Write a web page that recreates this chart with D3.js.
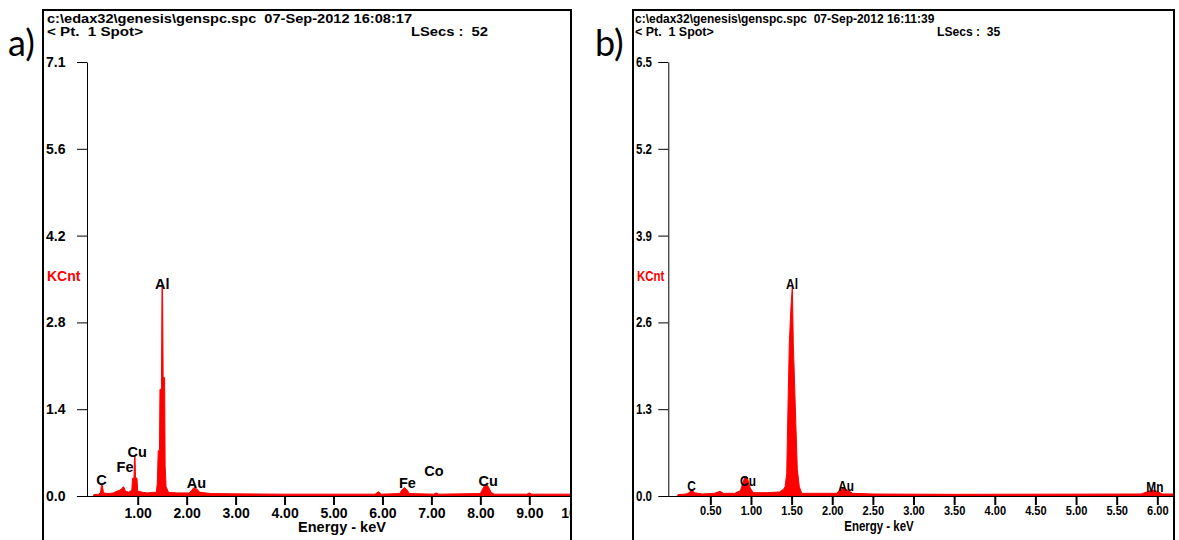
<!DOCTYPE html>
<html>
<head>
<meta charset="utf-8">
<script src="https://cdn.jsdelivr.net/npm/d3@7/dist/d3.min.js"></script>
<style>
  body { margin: 0; background: #fff; }
  svg { display: block; }
  text { font-family: "Liberation Sans", Arial, sans-serif; }
</style>
</head>
<body>
<svg id="chart" width="1179" height="540"></svg>
<script>
// ---- panel a) spectrum (keV / KCnt)
var energyA = [0.10,0.20,0.24,0.26,0.28,0.30, 0.40,0.50,0.55,0.62,0.68,0.70,0.72,0.75,0.82,
  0.88,0.895,0.925,0.935,0.945,0.955,0.985,1.00,
  1.10,1.20,1.30,1.38,1.40,1.42,1.445,1.455,1.485,1.497,1.505,1.51,1.52,1.55,1.56,1.58,1.63,
  1.80,2.05,2.10,2.15,2.20,2.27,2.50,3.00,4.00,5.00,
  5.85,5.92,5.98,6.35,6.40,6.45,6.50,6.55,
  7.05,7.10,7.15,8.00,8.05,8.10,8.15,8.22,8.28,
  8.95,9.00,9.05,10.00];
var countsA = [0.02,0.03,0.05,0.18,0.17,0.05, 0.04,0.05,0.07,0.09,0.12,0.15,0.14,0.08,0.06,
  0.10,0.29,0.29,0.65,0.65,0.30,0.29,0.08,
  0.06,0.05,0.06,0.06,0.20,0.74,0.74,1.74,1.74,3.41,3.41,3.10,1.93,1.93,0.50,0.15,0.06,
  0.05,0.05,0.09,0.14,0.12,0.06,0.04,0.035,0.03,0.03,
  0.03,0.07,0.03,0.04,0.10,0.14,0.10,0.04,
  0.03,0.05,0.03,0.04,0.12,0.19,0.17,0.06,0.03,
  0.03,0.05,0.03,0.03];
var peakNamesA = ["C","Fe","Cu","Al","Au","Fe","Co","Cu"];
var peakKeVA   = [0.26,0.74,0.99,1.50,2.20,6.51,7.05,8.16];
var peakCntA   = [0.18,0.39,0.64,3.38,0.135,0.126,0.33,0.16];
var xTicksA = [1,2,3,4,5,6,7,8,9,10];
var xTickLabelsA = ["1.00","2.00","3.00","4.00","5.00","6.00","7.00","8.00","9.00","10.00"];
var yMaxA = 7.08;
var yTickLabelsA = ["0.0","1.4","2.8","4.2","5.6","7.1"];
var headerA = ["c:\\edax32\\genesis\\genspc.spc  07-Sep-2012 16:08:17", "< Pt.  1 Spot>", "LSecs :  52"];

// ---- panel b) spectrum
var energyB = [0.10,0.20,0.24,0.27,0.30, 0.40,0.55,0.62,0.66,0.80, 0.87,0.92,0.95,0.99,1.03,
  1.20,1.35,1.40,1.42,1.44, 1.456,1.472,1.493,1.509,1.521, 1.538,1.554,1.570,1.595,1.624,
  1.80,2.05,2.10,2.14,2.20, 2.25,2.50,3.50,5.80,5.87, 5.93,6.00,6.06,6.50];
var countsB = [0.02,0.03,0.05,0.10,0.05, 0.03,0.04,0.07,0.04,0.04, 0.08,0.27,0.29,0.12,0.05,
  0.05,0.06,0.10,0.14,0.34, 1.35,2.29,2.85,3.13,2.28, 1.63,1.00,0.40,0.14,0.04,
  0.04,0.04,0.09,0.12,0.08, 0.04,0.03,0.025,0.03,0.06, 0.09,0.07,0.03,0.03];
var peakNamesB = ["C","Cu","Al","Au","Mn"];
var peakKeVB   = [0.27,0.963,1.505,2.17,5.97];
var peakCntB   = [0.08,0.15,3.10,0.08,0.064];
var xTicksB = [0.5,1,1.5,2,2.5,3,3.5,4,4.5,5,5.5,6];
var xTickLabelsB = ["0.50","1.00","1.50","2.00","2.50","3.00","3.50","4.00","4.50","5.00","5.50","6.00"];
var yMaxB = 6.5;
var yTickLabelsB = ["0.0","1.3","2.6","3.9","5.2","6.5"];
var headerB = ["c:\\edax32\\genesis\\genspc.spc  07-Sep-2012 16:11:39", "< Pt.  1 Spot>", "LSecs :  35"];

var svg = d3.select("#chart");

// text that can be squeezed sideways (panel b uses a condensed face)
function txt(g, x, y, s, o) {
  var t = g.append("text")
    .attr("transform", "translate(" + x + "," + y + ") scale(" + (o.sx || 1) + ",1)")
    .attr("text-anchor", o.anchor || "start")
    .style("font-size", (o.size || 14) + "px")
    .style("font-weight", o.weight || "bold")
    .style("white-space", "pre")
    .attr("fill", o.fill || "#000")
    .text(s);
  if (o.len) t.attr("textLength", o.len).attr("lengthAdjust", "spacingAndGlyphs");
  return t;
}

function drawPanel(p) {
  var g = svg.append("g");
  var clipId = "clip" + p.tag;

  g.append("clipPath").attr("id", clipId).append("rect")
    .attr("x", p.left + 1).attr("y", 0).attr("width", p.right - p.left - 2).attr("height", 540);

  var x = d3.scaleLinear().domain(p.xDomain).range(p.xRange);
  var y = d3.scaleLinear().domain([0, p.yMax]).range([496, 62]);

  // panel label a) / b)
  g.append("text").attr("x", p.tagX).attr("y", 56)
    .style("font-family", "Lato, 'Open Sans', sans-serif").style("font-size", "36px")
    .text(p.tag + ")");

  // frame
  g.append("rect").attr("x", p.left).attr("y", 10)
    .attr("width", p.right - p.left).attr("height", 545)
    .attr("fill", "none").attr("stroke", "#000").attr("stroke-width", 2);

  // header lines (the instrument font is wide, so stretch to the measured widths)
  txt(g, p.left + p.pad, 23, p.header[0], {size: 12.5, sx: p.sx, len: 365});
  txt(g, p.left + p.pad, 36, p.header[1], {size: 12.5, sx: p.sx, len: 96});
  txt(g, p.lsecsX, 36, p.header[2], {size: 12.5, sx: p.sx, len: 77});

  var plot = g.append("g").attr("clip-path", "url(#" + clipId + ")");

  // spectrum
  var data = p.energy.map(function(e, i) { return {e: e, c: p.counts[i]}; });
  var area = d3.area()
    .x(function(d) { return x(d.e); })
    .y0(y(0))
    .y1(function(d) { return y(d.c); });
  plot.append("path").datum(data)
    .attr("d", area)
    .attr("fill", "#ff0000")
    .attr("stroke", "#ff0000")
    .attr("stroke-width", 1)
    .attr("stroke-linejoin", "miter");

  // x axis
  plot.append("line")
    .attr("x1", p.yAxisX).attr("x2", p.right)
    .attr("y1", 496.5).attr("y2", 496.5)
    .attr("stroke", "#000").attr("stroke-width", 1);

  var xa = plot.append("g").attr("transform", "translate(0,496)")
    .call(d3.axisBottom(x).tickValues(p.xTicks).tickSize(9)
      .tickFormat(function(d, i) { return p.xTickLabels[i]; }));
  xa.select(".domain").remove();
  xa.selectAll(".tick line").attr("stroke-width", 2);
  xa.selectAll(".tick text")
    .attr("y", p.xLabelY).attr("dy", null)
    .attr("transform", "scale(" + p.sx + ",1)")
    .style("font-size", p.xLabelSize + "px").style("font-weight", "bold")
    .style("font-family", "'Liberation Sans', Arial, sans-serif")
    .attr("fill", "#000");

  txt(g, p.energyX, p.energyY, "Energy - keV", {size: p.energySize, anchor: "middle", sx: p.sx});

  // y axis
  var yTicks = d3.range(6).map(function(i) { return p.yMax * i / 5; });
  var ya = g.append("g").attr("transform", "translate(" + p.yAxisX + ",0)")
    .call(d3.axisLeft(y).tickValues(yTicks).tickSize(10).tickSizeOuter(0)
      .tickFormat(function(d, i) { return p.yTickLabels[i]; }));
  ya.select(".domain").attr("stroke", "#000");
  ya.selectAll(".tick text")
    .attr("text-anchor", "start")
    .attr("x", null).attr("dy", null).attr("y", 4.5)
    .attr("transform", "translate(" + (p.left + 3 - p.yAxisX) + ",0) scale(" + p.sx + ",1)")
    .style("font-size", "14px").style("font-weight", "bold")
    .style("font-family", "'Liberation Sans', Arial, sans-serif")
    .attr("fill", "#000");

  txt(g, p.left + 4, 280.5, "KCnt", {size: 14, fill: "#ff0000", sx: p.sx});

  // peak labels
  p.peakNames.forEach(function(n, i) {
    txt(g, x(p.peakKeV[i]), y(p.peakCnt[i]), n, {size: 14.5, anchor: "middle", sx: p.sx});
  });
}

drawPanel({
  tag: "a", tagX: 8, left: 43, right: 571, pad: 4, lsecsX: 411, sx: 1,
  xDomain: [0, 10], xRange: [88.75, 578.25], yAxisX: 87, yMax: yMaxA,
  energy: energyA, counts: countsA,
  xTicks: xTicksA, xTickLabels: xTickLabelsA, yTickLabels: yTickLabelsA,
  xLabelY: 21.5, xLabelSize: 14, energyX: 342, energyY: 532, energySize: 14.5,
  peakNames: peakNamesA, peakKeV: peakKeVA, peakCnt: peakCntA,
  header: headerA
});

drawPanel({
  tag: "b", tagX: 595, left: 633, right: 1174, pad: 2, lsecsX: 937, sx: 0.82,
  xDomain: [0, 6.5], xRange: [669.7, 669.7 + 6.5 * 81.27], yAxisX: 668.3, yMax: yMaxB,
  energy: energyB, counts: countsB,
  xTicks: xTicksB, xTickLabels: xTickLabelsB, yTickLabels: yTickLabelsB,
  xLabelY: 19, xLabelSize: 13.5, energyX: 879, energyY: 531, energySize: 14,
  peakNames: peakNamesB, peakKeV: peakKeVB, peakCnt: peakCntB,
  header: headerB
});
</script>
</body>
</html>
